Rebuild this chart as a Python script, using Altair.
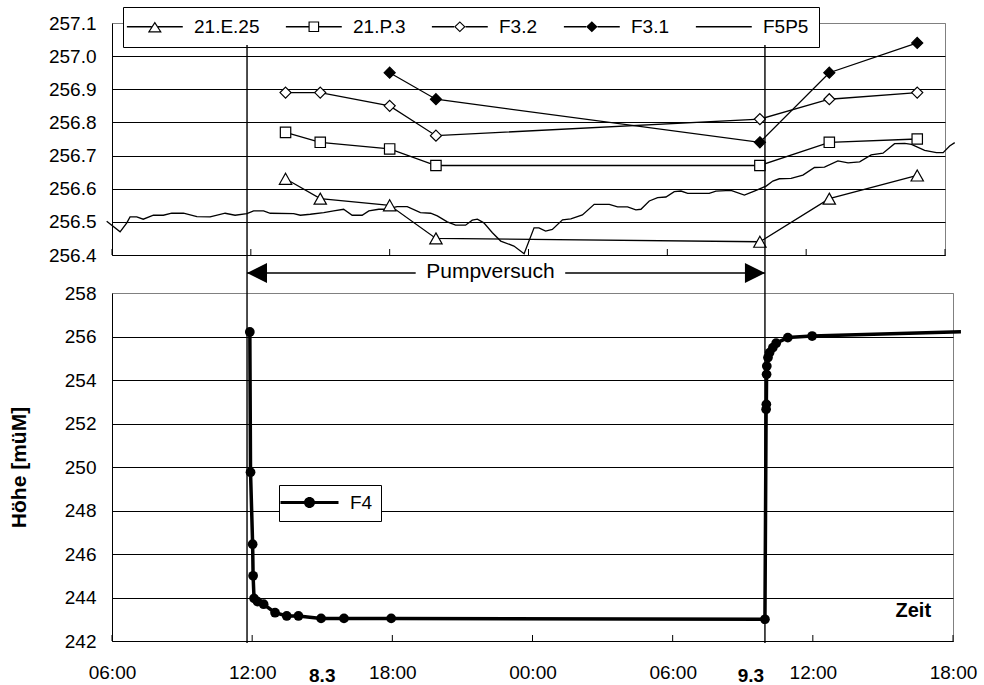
import altair as alt
import pandas as pd

FONT = "Liberation Sans"

# ---------------- axes (time in hours counted from 8.3 00:00) ----------------
X_DOMAIN = [6, 42]
X_TICKS = [6, 12, 18, 24, 30, 36, 42]
TOP_Y_DOMAIN = [256.4, 257.1]
TOP_Y_TICKS = [256.4, 256.5, 256.6, 256.7, 256.8, 256.9, 257.0, 257.1]
BOT_Y_DOMAIN = [242, 258]
BOT_Y_TICKS = [242, 244, 246, 248, 250, 252, 254, 256, 258]

# ---------------- upper panel: manual readings ----------------
SERIES = ["21.E.25", "21.P.3", "F3.2", "F3.1"]
T_MAN = [13.5, 15.0, 18.0, 20.0, 34.0, 37.0, 40.8]
V_E25 = [256.63, 256.57, 256.55, 256.45, 256.44, 256.57, 256.64]
V_P3 = [256.77, 256.74, 256.72, 256.67, 256.67, 256.74, 256.75]
V_F32 = [256.89, 256.89, 256.85, 256.76, 256.81, 256.87, 256.89]
T_F31 = [18.0, 20.0, 34.0, 37.0, 40.8]
V_F31 = [256.95, 256.87, 256.74, 256.95, 257.04]

# ---------------- upper panel: logger F5P5 ----------------
F5P5_T = [5.77, 6.35, 6.64, 6.78, 7.07, 7.35, 7.79, 8.22, 8.58, 9.09,
          9.67, 10.24, 10.89, 11.32, 11.83, 12.12, 12.55, 12.84, 13.85, 14.14,
          14.57, 15.15, 15.58, 16.01, 16.38, 16.81, 17.10, 17.53, 17.82, 18.32,
          18.76, 19.33, 19.77, 20.06, 20.49, 20.85, 21.28, 21.57, 21.79, 22.07,
          22.44, 22.80, 23.37, 23.81, 24.24, 24.45, 24.74, 25.03, 25.47, 25.83,
          26.33, 26.84, 27.49, 27.85, 28.28, 28.64, 28.86, 29.22, 29.58, 29.94,
          30.30, 30.59, 30.88, 31.81, 32.10, 32.75, 33.33, 33.76, 34.27, 34.56,
          34.84, 35.35, 35.86, 36.36, 36.79, 37.37, 37.81, 38.31, 38.81, 39.32,
          39.82, 40.26, 40.55, 41.12, 41.63, 41.92, 42.20, 42.42]
F5P5_V = [256.502, 256.470, 256.497, 256.515, 256.515, 256.508, 256.520, 256.520, 256.526, 256.526,
          256.516, 256.515, 256.526, 256.520, 256.525, 256.533, 256.533, 256.526, 256.525, 256.520,
          256.523, 256.528, 256.533, 256.538, 256.520, 256.520, 256.533, 256.538, 256.538, 256.546,
          256.546, 256.528, 256.526, 256.518, 256.500, 256.490, 256.490, 256.505, 256.508, 256.497,
          256.467, 256.442, 256.427, 256.404, 256.482, 256.482, 256.472, 256.477, 256.506, 256.509,
          256.521, 256.553, 256.553, 256.545, 256.545, 256.536, 256.538, 256.563, 256.573, 256.575,
          256.591, 256.593, 256.586, 256.586, 256.593, 256.595, 256.581, 256.593, 256.608, 256.623,
          256.630, 256.631, 256.641, 256.664, 256.665, 256.684, 256.678, 256.681, 256.702, 256.707,
          256.736, 256.737, 256.734, 256.716, 256.709, 256.709, 256.729, 256.739]

# ---------------- lower panel: pumped well F4 ----------------
F4_T = [11.90, 11.93, 12.02, 12.04, 12.08, 12.23, 12.49, 12.98, 13.48, 13.98,
        14.95, 15.93, 17.95, 33.95, 34.00, 34.01, 34.02, 34.03, 34.08, 34.15,
        34.29, 34.43, 34.93, 35.97, 42.34]
F4_V = [256.21, 249.76, 246.45, 245.00, 243.96, 243.81, 243.69, 243.30, 243.15, 243.15,
        243.04, 243.04, 243.04, 243.00, 252.65, 252.88, 254.26, 254.64, 255.03, 255.26,
        255.49, 255.69, 255.95, 256.02, 256.22]

# ---------------- annotations ----------------
LEGEND_NAMES = ["21.E.25", "21.P.3", "F3.2", "F3.1", "F5P5"]
PUMP_T = [11.78, 33.95]
ARROW_GAP = [19.0, 25.4]
ARROW_TEXT = ["Pumpversuch"]
ARROW_TEXT_T = [22.2]
DATE_TEXT = ["8.3", "9.3"]
DATE_T = [15.0, 33.35]
ZEIT_TEXT = ["Zeit"]
ZEIT_T = [40.3]
ZEIT_V = [243.4]

# marker shapes for the data (unit paths, stroked)
TRI = "M0,-0.85L0.95,0.85L-0.95,0.85Z"
SQR = "M-0.8,-0.8L0.8,-0.8L0.8,0.8L-0.8,0.8Z"
DIA = "M0,-0.85L0.85,0L0,0.85L-0.85,0Z"
# legend keys: line + marker drawn as filled outlines (outer contour + reversed inner contour)
L_TRI = ("M-4.3,-0.1L-0.5,-0.1L-0.5,0.1L-4.3,0.1Z M0.5,-0.1L4.3,-0.1L4.3,0.1L0.5,0.1Z "
         "M0,-0.8L1.08,0.88L-1.08,0.88Z M0,-0.47L-0.75,0.7L0.75,0.7Z")
L_SQR = ("M-4.3,-0.1L-0.82,-0.1L-0.82,0.1L-4.3,0.1Z M0.82,-0.1L4.3,-0.1L4.3,0.1L0.82,0.1Z "
         "M-0.82,-0.82L0.82,-0.82L0.82,0.82L-0.82,0.82Z M-0.64,-0.64L-0.64,0.64L0.64,0.64L0.64,-0.64Z")
L_DIA = ("M-4.3,-0.1L-0.88,-0.1L-0.88,0.1L-4.3,0.1Z M0.88,-0.1L4.3,-0.1L4.3,0.1L0.88,0.1Z "
         "M0,-0.85L0.88,0L0,0.85L-0.88,0Z M0,-0.6L-0.63,0L0,0.6L0.63,0Z")
L_DIA_F = ("M-4.3,-0.1L-0.88,-0.1L-0.88,0.1L-4.3,0.1Z M0.88,-0.1L4.3,-0.1L4.3,0.1L0.88,0.1Z "
           "M0,-0.85L0.88,0L0,0.85L-0.88,0Z")
L_LINE = "M-4.3,-0.1L4.3,-0.1L4.3,0.1L-4.3,0.1Z"
L_F4 = "M-5.8,-0.3L5.8,-0.3L5.8,0.3L-5.8,0.3Z M1.1,0A1.1,1.1,0,1,1,-1.1,0A1.1,1.1,0,1,1,1.1,0Z"
ARROW_L = "M0,0L2,-1L2,1Z"
ARROW_R = "M0,0L-2,-1L-2,1Z"

TOP_W, TOP_H = 833, 232
BOT_W, BOT_H = 841, 348

# ---------------- data frames ----------------
rows = []
for name, ts, vs in [("21.E.25", T_MAN, V_E25), ("21.P.3", T_MAN, V_P3),
                     ("F3.2", T_MAN, V_F32), ("F3.1", T_F31, V_F31)]:
    for t, v in zip(ts, vs):
        rows.append({"t": t, "v": v, "series": name})
series_df = pd.DataFrame(rows)
f5_df = pd.DataFrame({"t": F5P5_T, "v": F5P5_V})
f4_df = pd.DataFrame({"t": F4_T, "v": F4_V})
tick_df = pd.DataFrame({"t": X_TICKS})
leg_df = pd.DataFrame({"lg": LEGEND_NAMES})
leg4_df = pd.DataFrame({"lg4": ["F4"]})
pump_df = pd.DataFrame({"t": PUMP_T})
arrow_df = pd.DataFrame({"t": [PUMP_T[0], ARROW_GAP[1]], "t2": [ARROW_GAP[0], PUMP_T[1]]})
arrow_l_df = pd.DataFrame({"t": [PUMP_T[0]]})
arrow_r_df = pd.DataFrame({"t": [PUMP_T[1]]})
arrow_txt_df = pd.DataFrame({"t": ARROW_TEXT_T, "label": ARROW_TEXT})
date_df = pd.DataFrame({"t": DATE_T, "label": DATE_TEXT})
zeit_df = pd.DataFrame({"t": ZEIT_T, "v": ZEIT_V, "label": ZEIT_TEXT})

# ---------------- upper chart ----------------
x_top = alt.X("t:Q", scale=alt.Scale(domain=X_DOMAIN, nice=False, zero=False),
              axis=alt.Axis(title=None, labels=False, ticks=False, grid=False,
                            domainColor="black"))
y_top = alt.Y("v:Q", scale=alt.Scale(domain=TOP_Y_DOMAIN, nice=False, zero=False),
              axis=alt.Axis(title=None, values=TOP_Y_TICKS, format=".1f", ticks=False,
                            grid=True, labelPadding=16, labelFontSize=19,
                            gridColor={"condition": {"test": "datum.value >= 257.09", "value": "#808080"},
                                       "value": "black"},
                            domainColor="black"))

f5_line = alt.Chart(f5_df).mark_line(color="black", strokeWidth=1.3).encode(x=x_top, y=y_top)
ser_lines = alt.Chart(series_df).mark_line(color="black", strokeWidth=1.3).encode(
    x=x_top, y=y_top, detail="series:N")
ser_pts = alt.Chart(series_df).mark_point(stroke="black", strokeWidth=1.2, size=169, opacity=1).encode(
    x=x_top, y=y_top,
    shape=alt.Shape("series:N", scale=alt.Scale(domain=SERIES, range=[TRI, SQR, DIA, DIA]), legend=None),
    fill=alt.Fill("series:N", scale=alt.Scale(domain=SERIES, range=["white", "white", "white", "black"]),
                  legend=None),
)
top_legend = alt.Legend(title=None, orient="none", legendX=11, legendY=-16, direction="horizontal",
                        symbolSize=169, symbolStrokeWidth=0, symbolOpacity=1, symbolOffset=12.33,
                        symbolFillColor="black",
                        labelOffset=29.67, labelFont=FONT, labelFontSize=19, labelColor="black",
                        columnPadding=25, padding=10, strokeColor="black", fillColor="white")
leg_layer = alt.Chart(leg_df).mark_point(filled=True, color="black", size=169, opacity=0).encode(
    shape=alt.Shape("lg:N", scale=alt.Scale(domain=LEGEND_NAMES,
                                            range=[L_TRI, L_SQR, L_DIA, L_DIA_F, L_LINE]),
                    legend=top_legend),
)
top_ticks = alt.Chart(tick_df).mark_rule(color="black", strokeWidth=1).encode(
    x=x_top, y=alt.value(TOP_H), y2=alt.value(TOP_H - 6))

top = alt.layer(f5_line, ser_lines, ser_pts, leg_layer, top_ticks).resolve_scale(
    shape="independent", fill="independent").properties(width=TOP_W, height=TOP_H)

# ---------------- lower chart ----------------
label_expr = "(datum.value % 24 < 10 ? '0' : '') + (datum.value % 24) + ':00'"
x_bot = alt.X("t:Q", scale=alt.Scale(domain=X_DOMAIN, nice=False, zero=False),
              axis=alt.Axis(title=None, values=X_TICKS, labelExpr=label_expr, ticks=False, grid=False,
                            labelPadding=22, labelFontSize=19, labelFlush=False, labelOverlap=False,
                            labelBound=False, domainColor="black"))
y_bot = alt.Y("v:Q", scale=alt.Scale(domain=BOT_Y_DOMAIN, nice=False, zero=False),
              axis=alt.Axis(title="Höhe [müM]", values=BOT_Y_TICKS, ticks=False, grid=True,
                            labelPadding=16, labelFontSize=19, titleFont=FONT, titleFontSize=21,
                            titleFontWeight="bold", titlePadding=35, titleColor="black",
                            gridColor={"condition": {"test": "datum.value >= 257.9", "value": "#808080"},
                                       "value": "black"},
                            domainColor="black"))

f4_line = alt.Chart(f4_df).mark_line(color="black", strokeWidth=3.5).encode(x=x_bot, y=y_bot)
f4_pts = alt.Chart(f4_df).transform_filter(alt.datum.t <= X_DOMAIN[1]).mark_point(
    shape="circle", filled=True, color="black", size=95, opacity=1).encode(x=x_bot, y=y_bot)
bot_legend = alt.Legend(title=None, orient="none", legendX=167, legendY=192,
                        symbolSize=100, symbolStrokeWidth=0, symbolOpacity=1, symbolOffset=13,
                        symbolFillColor="black",
                        labelOffset=31, labelFont=FONT, labelFontSize=19, labelColor="black",
                        padding=8, strokeColor="black", fillColor="white")
leg4_layer = alt.Chart(leg4_df).mark_point(filled=True, color="black", size=100, opacity=0).encode(
    shape=alt.Shape("lg4:N", scale=alt.Scale(domain=["F4"], range=[L_F4]), legend=bot_legend))
bot_ticks = alt.Chart(tick_df).mark_rule(color="black", strokeWidth=1).encode(
    x=x_bot, y=alt.value(BOT_H), y2=alt.value(BOT_H - 6))
pump_rules = alt.Chart(pump_df).mark_rule(color="black", strokeWidth=1.4).encode(
    x=x_bot, y=alt.value(-248), y2=alt.value(BOT_H + 2))
arrow_rules = alt.Chart(arrow_df).mark_rule(color="black", strokeWidth=1.4).encode(
    x=x_bot, x2="t2:Q", y=alt.value(-20))
arrow_l = alt.Chart(arrow_l_df).mark_point(shape=ARROW_L, filled=True, color="black", size=400,
                                           opacity=1).encode(x=x_bot, y=alt.value(-20))
arrow_r = alt.Chart(arrow_r_df).mark_point(shape=ARROW_R, filled=True, color="black", size=400,
                                           opacity=1).encode(x=x_bot, y=alt.value(-20))
arrow_txt = alt.Chart(arrow_txt_df).mark_text(font=FONT, fontSize=21, color="black",
                                              baseline="middle", align="center").encode(
    x=x_bot, y=alt.value(-21), text="label:N")
date_txt = alt.Chart(date_df).mark_text(font=FONT, fontSize=19, fontWeight="bold", color="black",
                                        baseline="middle", align="center").encode(
    x=x_bot, y=alt.value(BOT_H + 35), text="label:N")
zeit_txt = alt.Chart(zeit_df).mark_text(font=FONT, fontSize=20, fontWeight="bold", color="black",
                                        baseline="middle", align="center").encode(
    x=x_bot, y=y_bot, text="label:N")

bottom = alt.layer(f4_line, f4_pts, leg4_layer, bot_ticks, pump_rules, arrow_rules, arrow_l, arrow_r,
                   arrow_txt, date_txt, zeit_txt).properties(width=BOT_W, height=BOT_H)

chart = alt.vconcat(top, bottom, spacing=38, bounds="flush").resolve_scale(
    shape="independent", fill="independent"
).properties(
    padding={"left": 7, "top": 6, "right": 0, "bottom": 0}
).configure_view(
    stroke="#808080", strokeWidth=1
).configure_axis(
    labelFont=FONT, labelColor="black", domainWidth=1, gridWidth=1
)

chart.save("out.html", embed_options={"renderer": "svg", "actions": False})
